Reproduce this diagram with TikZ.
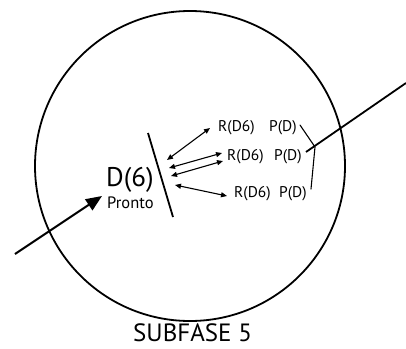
\documentclass[tikz,border=0pt]{standalone}
\usepackage{fontspec}
\setmainfont{PT Sans}
\usetikzlibrary{arrows.meta}
\begin{document}
\begin{tikzpicture}[x=1pt,y=-1pt,
  thick line/.style={line width=1.8pt},
  thin line/.style={line width=1.1pt, line cap=round},
  link/.style={thin line, {Triangle[length=6pt,width=5pt]}-{Triangle[length=6pt,width=5pt]}},
  entry/.style={line width=2pt, -{Triangle[length=16pt,width=13pt]}},
  lbl/.style={inner sep=0pt, anchor=base west, font=\fontsize{15.5}{17}\selectfont},
  big/.style={inner sep=0pt, anchor=base west, font=\fontsize{27}{30}\selectfont},
  mid/.style={inner sep=0pt, anchor=base west, font=\fontsize{16.5}{18}\selectfont},
  title/.style={inner sep=0pt, anchor=base west, font=\fontsize{25}{28}\selectfont}]
\useasboundingbox (0,0) rectangle (406,348);

% the cell
\node[draw, thick line, circle, minimum size=310pt, inner sep=0pt] (cell) at (190,166) {};

% labels
\node[big] (d6) at (106,186) {D(6)};
\node[mid] (pronto) at (107,208) {Pronto};
\node[lbl] (r1) at (218,131) {R(D6)};
\node[lbl] (p1) at (269,131) {P(D)};
\node[lbl] (r2) at (227,160) {R(D6)};
\node[lbl] (p2) at (274,160) {P(D)};
\node[lbl] (r3) at (234,197) {R(D6)};
\node[lbl] (p3) at (279,197) {P(D)};
\node[title] (subfase) at (133,341) {SUBFASE 5};

% incoming arrow
\coordinate (in0) at (15,254);
\coordinate (in1) at (102,196);
\draw[entry] (in0) -- (in1);

% barrier
\coordinate (w0) at (148,133);
\coordinate (w1) at (173,217);
\draw[line width=1.8pt] (w0) -- (w1);

% double arrows between barrier and receptors
\coordinate (a1) at (167,160);  \coordinate (b1) at (210,128);
\coordinate (a2) at (169,168);  \coordinate (b2) at (222,153);
\coordinate (a3) at (171,176);  \coordinate (b3) at (223,161);
\coordinate (a4) at (175,185);  \coordinate (b4) at (227,196);
\draw[link] (a1) -- (b1);
\draw[link] (a2) -- (b2);
\draw[link] (a3) -- (b3);
\draw[link] (a4) -- (b4);

% bracket joining the P(D) labels
\coordinate (j) at (315,147);
\coordinate (t1) at (300,125);
\coordinate (t3) at (311,189);
\draw[thin line] (t1) -- (j) -- (t3);

% outgoing line
\coordinate (o0) at (306,152);
\coordinate (o1) at (406,83);
\draw[thick line] (o0) -- (o1);
\end{tikzpicture}
\end{document}
